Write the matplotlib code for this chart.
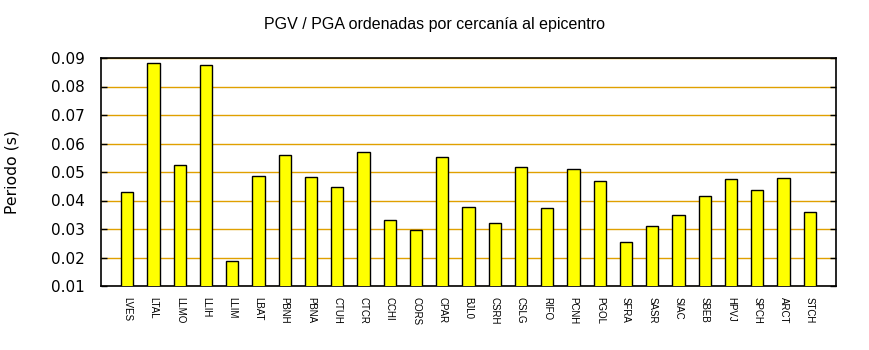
import matplotlib
matplotlib.use("Agg")
import matplotlib.pyplot as plt
import numpy as np

stations = ["LVES", "LTAL", "LLMO", "LLIH", "LLIM", "LBAT", "PBNH", "PBNA",
            "CTUH", "CTCR", "CCHI", "CORS", "CPAR", "BJL0", "CSRH", "CSLG",
            "RIFO", "PCNH", "PGOL", "SFRA", "SASR", "SIAC", "SBEB", "HPVJ",
            "SPCH", "ARCT", "STCH"]
periods = [0.0429, 0.0881, 0.0523, 0.0874, 0.0187, 0.0485, 0.0559, 0.0481,
           0.0446, 0.0569, 0.0331, 0.0295, 0.0552, 0.0376, 0.0320, 0.0516,
           0.0373, 0.0509, 0.0467, 0.0253, 0.0309, 0.0348, 0.0415, 0.0474,
           0.0436, 0.0478, 0.0359]
yticks = [0.01, 0.02, 0.03, 0.04, 0.05, 0.06, 0.07, 0.08, 0.09]

fig = plt.figure(figsize=(8.7, 3.5), dpi=100)
ax = fig.add_axes([101 / 870, 1 - 286 / 350, 735 / 870, 228 / 350])

x = np.arange(len(stations))
ax.bar(x, periods, width=0.47, bottom=0, color="#ffff00",
       edgecolor="black", linewidth=1.0, zorder=3)

ax.set_ylim(0.01, 0.09)
ax.set_xlim(-1.0, len(stations))
ax.set_yticks(yticks)
ax.set_yticklabels([f"{v:.2f}" for v in yticks], fontsize=11,
                   family="DejaVu Sans")
ax.yaxis.grid(True, color="#e0a000", linewidth=1.0, zorder=1)
ax.tick_params(axis="y", direction="in", length=4, left=True, right=True,
               pad=11.5, width=1)

ax.set_xticks(x)
ax.set_xticklabels(stations, rotation=270, fontsize=7,
                   family="Liberation Sans")
ax.tick_params(axis="x", length=0, pad=8)

for s in ax.spines.values():
    s.set_linewidth(1.2)

fig.text(12 / 870, 1 - 172 / 350, "Periodo (s)", rotation=90,
         ha="center", va="center", fontsize=11.3, family="DejaVu Sans")
fig.text(0.5, 1 - 24 / 350, "PGV / PGA ordenadas por cercanía al epicentro",
         ha="center", va="center", fontsize=11.5, family="Liberation Sans")

fig.savefig("out.png", dpi=100)
